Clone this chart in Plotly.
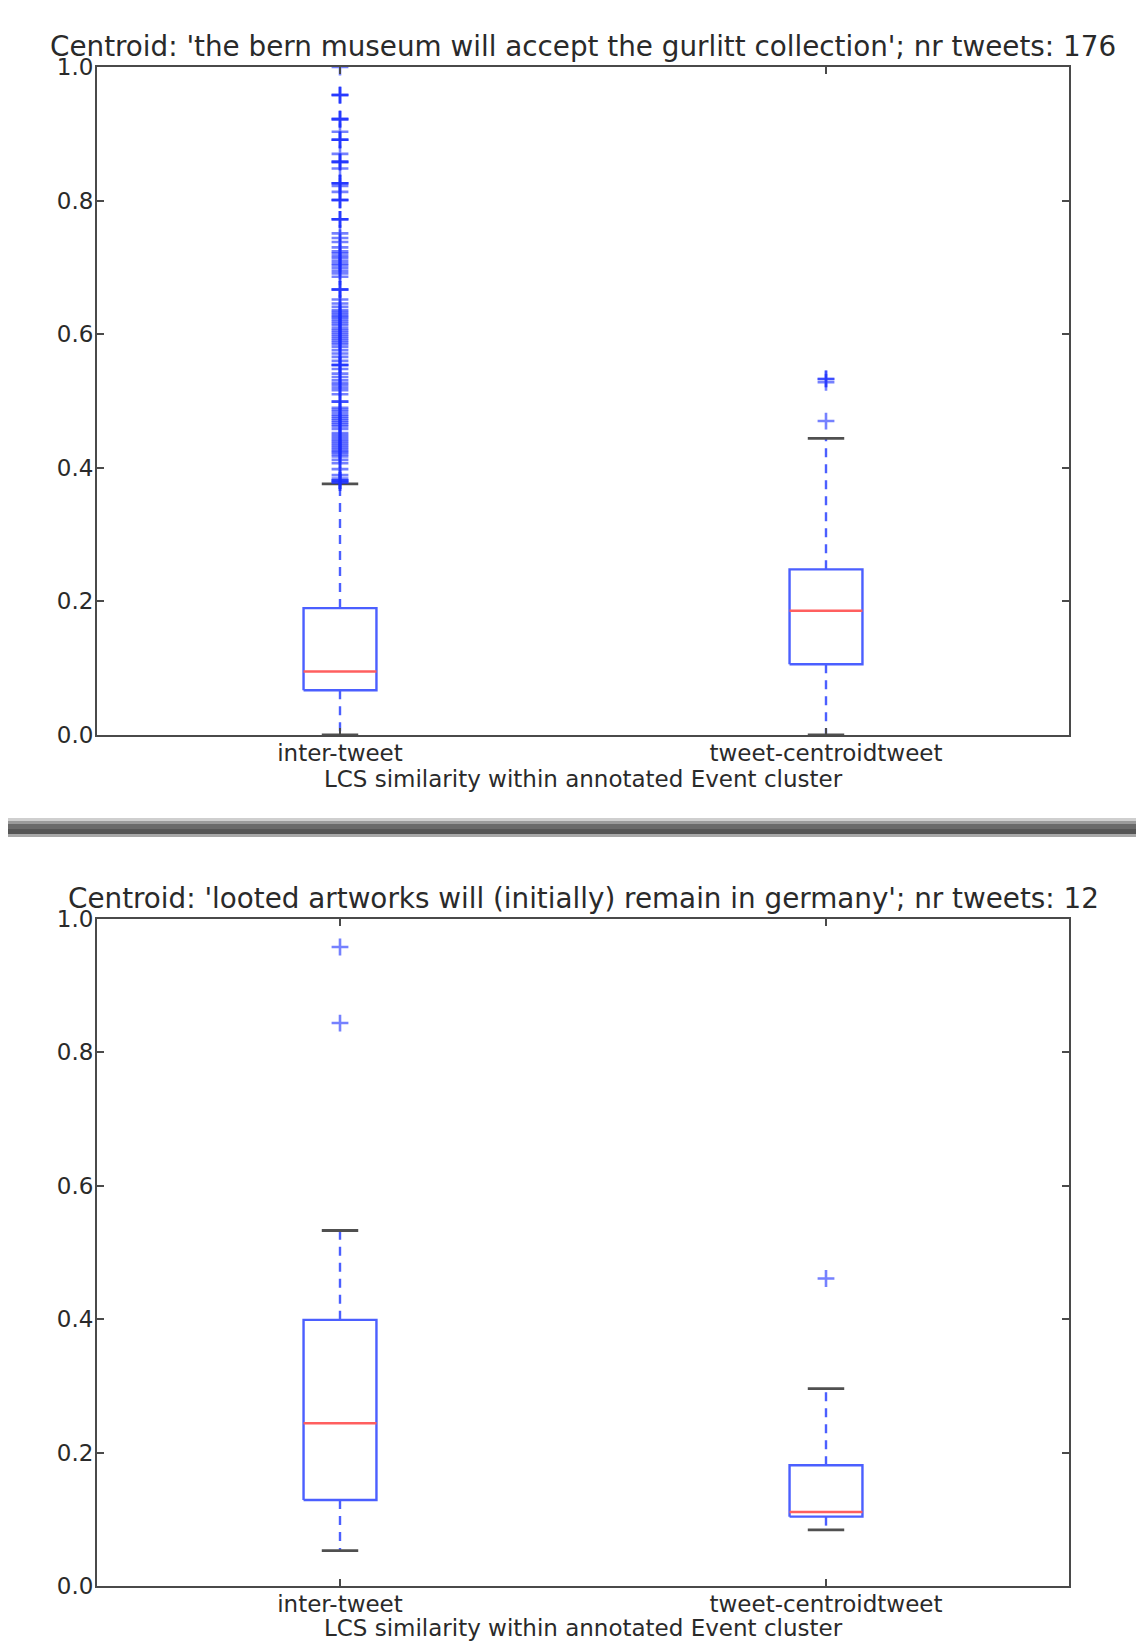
import plotly.graph_objects as go

# ---------------- data ----------------
categories = ["inter-tweet", "tweet-centroidtweet"]
positions = [1, 2]
titles = [
    "Centroid: 'the bern museum will accept the gurlitt collection'; nr tweets: 176",
    "Centroid: 'looted artworks will (initially) remain in germany'; nr tweets: 12",
]
xlabel = "LCS similarity within annotated Event cluster"
y_ticks = [0.0, 0.2, 0.4, 0.6, 0.8, 1.0]

# panel 1 (top)
p1_q1 = [0.067, 0.106]
p1_median = [0.095, 0.186]
p1_q3 = [0.190, 0.248]
p1_low = [0.0, 0.0]
p1_high = [0.376, 0.444]
p1_out_inter = [
    1.0, 0.958, 0.958, 0.958, 0.922, 0.922, 0.922, 0.903, 0.891, 0.891, 0.891,
    0.870, 0.858, 0.858, 0.858, 0.848, 0.826, 0.826, 0.826, 0.822, 0.813,
    0.801, 0.801, 0.801, 0.772, 0.772, 0.772, 0.751, 0.744, 0.738, 0.730,
    0.724, 0.721, 0.717, 0.714, 0.710, 0.706, 0.703, 0.699, 0.695, 0.691,
    0.686, 0.667, 0.667, 0.667, 0.652, 0.646, 0.641, 0.636, 0.633, 0.630,
    0.627, 0.625, 0.622, 0.619, 0.616, 0.613, 0.609, 0.606, 0.603, 0.600,
    0.597, 0.594, 0.591, 0.588, 0.585, 0.581, 0.576, 0.571, 0.566, 0.560,
    0.554, 0.554, 0.554, 0.548, 0.541, 0.536, 0.531, 0.527, 0.524, 0.520,
    0.516, 0.510, 0.499, 0.499, 0.490, 0.487, 0.484, 0.480, 0.477, 0.474,
    0.471, 0.468, 0.465, 0.462, 0.458, 0.452, 0.449, 0.446, 0.443, 0.440,
    0.437, 0.434, 0.431, 0.428, 0.425, 0.423, 0.420, 0.417, 0.412, 0.407,
    0.398, 0.389, 0.384, 0.381, 0.381, 0.381, 0.378, 0.378,
]
p1_out_centroid = [0.533, 0.533, 0.528, 0.470]

# panel 2 (bottom)
p2_q1 = [0.129, 0.104]
p2_median = [0.244, 0.111]
p2_q3 = [0.399, 0.181]
p2_low = [0.053, 0.084]
p2_high = [0.533, 0.296]
p2_out_inter = [0.958, 0.844]
p2_out_centroid = [0.461]

panels = [
    dict(q1=p1_q1, med=p1_median, q3=p1_q3, low=p1_low, high=p1_high,
         out=[p1_out_inter, p1_out_centroid]),
    dict(q1=p2_q1, med=p2_median, q3=p2_q3, low=p2_low, high=p2_high,
         out=[p2_out_inter, p2_out_centroid]),
]

# ---------------- style ----------------
BOX_W = 0.15
CAP_W = 0.075
BLUE = "rgb(75,95,255)"
RED = "rgb(255,95,95)"
CAP = "#505050"
FRAME = "#4a4a4a"
TXT = "#2a2a2a"
FONT = "DejaVu Sans"

fig = go.Figure()

for k, pnl in enumerate(panels):
    xa = "x" if k == 0 else "x2"
    ya = "y" if k == 0 else "y2"
    for i, p in enumerate(positions):
        q1, med, q3 = pnl["q1"][i], pnl["med"][i], pnl["q3"][i]
        lo, hi = pnl["low"][i], pnl["high"][i]
        # whiskers
        fig.add_trace(go.Scatter(
            x=[p, p, None, p, p], y=[q3, hi, None, q1, lo], mode="lines",
            line=dict(color=BLUE, width=2.4, dash="9px,7px"),
            xaxis=xa, yaxis=ya, showlegend=False, hoverinfo="skip"))
        # caps
        fig.add_trace(go.Scatter(
            x=[p - CAP_W / 2, p + CAP_W / 2, None, p - CAP_W / 2, p + CAP_W / 2],
            y=[hi, hi, None, lo, lo], mode="lines",
            line=dict(color=CAP, width=2.8),
            xaxis=xa, yaxis=ya, showlegend=False, hoverinfo="skip"))
        # box
        fig.add_trace(go.Scatter(
            x=[p - BOX_W / 2, p + BOX_W / 2, p + BOX_W / 2, p - BOX_W / 2, p - BOX_W / 2],
            y=[q1, q1, q3, q3, q1], mode="lines",
            line=dict(color=BLUE, width=2.4),
            xaxis=xa, yaxis=ya, showlegend=False, name=categories[i]))
        # median
        fig.add_trace(go.Scatter(
            x=[p - BOX_W / 2, p + BOX_W / 2], y=[med, med], mode="lines",
            line=dict(color=RED, width=2.4),
            xaxis=xa, yaxis=ya, showlegend=False, hoverinfo="skip"))
        # outliers
        outs = pnl["out"][i]
        fig.add_trace(go.Scatter(
            x=[p] * len(outs), y=outs, mode="markers",
            marker=dict(symbol="cross-thin", size=12,
                        line=dict(color="rgba(25,45,255,0.6)", width=2.6)),
            xaxis=xa, yaxis=ya, showlegend=False))

W, H = 1136, 1641
x_dom = [97 / W, 1069 / W]
y_dom1 = [1 - 735 / H, 1 - 67 / H]
y_dom2 = [1 - 1586 / H, 1 - 919 / H]

axis_common = dict(
    showline=True, linecolor=FRAME, linewidth=2, mirror="ticks",
    ticks="inside", ticklen=7, tickwidth=1.5, tickcolor=FRAME,
    showgrid=False, zeroline=False, automargin=False,
    tickfont=dict(family=FONT, size=23, color=TXT),
)

xaxis_cfg = dict(axis_common, range=[0.5, 2.5], tickvals=positions,
                 ticktext=categories, domain=x_dom, ticklabelstandoff=-4,
                 title=dict(text=xlabel, standoff=2,
                            font=dict(family=FONT, size=23, color=TXT)))
yaxis_cfg = dict(axis_common, range=[0, 1], tickvals=y_ticks,
                 ticktext=[f"{v:.1f}" for v in y_ticks], ticklabelstandoff=-3)

fig.update_layout(
    width=W, height=H,
    margin=dict(l=0, r=0, t=0, b=0, autoexpand=False),
    paper_bgcolor="white", plot_bgcolor="white",
    xaxis=dict(xaxis_cfg, anchor="y"),
    yaxis=dict(yaxis_cfg, domain=y_dom1, anchor="x"),
    xaxis2=dict(xaxis_cfg, anchor="y2"),
    yaxis2=dict(yaxis_cfg, domain=y_dom2, anchor="x2"),
)

# titles
for t, ypx in zip(titles, [47, 898]):
    fig.add_annotation(text=t, xref="paper", yref="paper",
                       x=(x_dom[0] + x_dom[1]) / 2, y=1 - ypx / H,
                       xanchor="center", yanchor="middle", showarrow=False,
                       font=dict(family=FONT, size=27.8, color=TXT))

# separator bar between the two panels
bands = [(818, 821, "#cfcfcf"), (821, 824, "#9a9a9a"), (824, 829, "#6a6a6a"),
         (829, 834, "#555555"), (834, 837, "#a8a8a8")]
for y0, y1, c in bands:
    fig.add_shape(type="rect", xref="paper", yref="paper",
                  x0=8 / W, x1=1.0, y0=1 - y1 / H, y1=1 - y0 / H,
                  line=dict(width=0), fillcolor=c, layer="below")

fig.write_html("out.html", config={"displayModeBar": False})

with open("out.html", "r", encoding="utf-8") as f:
    html = f.read()
html = html.replace("<body>", '<body style="margin:0;padding:0;overflow:hidden">', 1)
with open("out.html", "w", encoding="utf-8") as f:
    f.write(html)
